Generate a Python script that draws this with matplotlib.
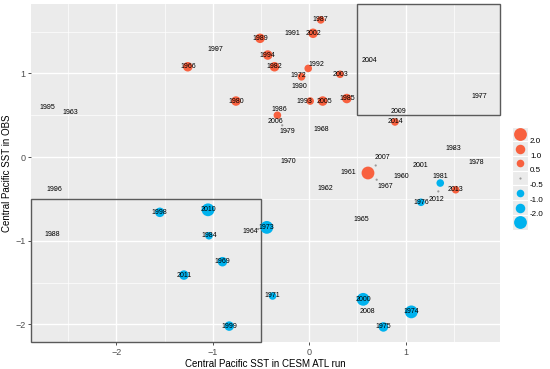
import matplotlib
matplotlib.use("Agg")
import matplotlib.pyplot as plt
from matplotlib.patches import Rectangle
import numpy as np

plt.rcParams['font.family'] = ['Liberation Sans', 'DejaVu Sans']

# year, x (CESM ATL run), y (OBS), index value (size / colour)
years = [1987, 2002, 1989, 1994, 1966, 1982, 1992, 2003, 1972, 1980, 1993, 2005,
         1985, 1986, 2014, 1961, 2013,
         1998, 2010, 1984, 1973, 2011, 1969, 1971, 1999, 2000, 1974, 1975, 1981, 1976,
         1991, 1997, 1990, 2006, 1979, 1968, 1995, 1963, 2004, 1977, 2009, 1983,
         1978, 1970, 2007, 1967, 1960, 2001, 2012, 1962, 1965, 1996, 1988, 1964, 2008]
x_cesm = [0.12, 0.04, -0.51, -0.43, -1.26, -0.36, -0.01, 0.32, -0.08, -0.76, 0.01, 0.14,
          0.39, -0.33, 0.89, 0.61, 1.52,
          -1.55, -1.05, -1.04, -0.44, -1.30, -0.90, -0.38, -0.83, 0.56, 1.06, 0.77, 1.36, 1.16,
          -0.18, -0.97, -0.10, -0.28, -0.23, 0.13, -2.72, -2.48, 0.62, 1.77, 0.93, 1.50,
          1.73, -0.22, 0.69, 0.70, 0.96, 1.15, 1.34, 0.17, 0.54, -2.64, -2.67, -0.53, 0.60]
y_obs = [1.64, 1.48, 1.42, 1.22, 1.08, 1.08, 1.06, 0.99, 0.96, 0.67, 0.67, 0.67,
         0.70, 0.50, 0.42, -0.19, -0.39,
         -0.66, -0.63, -0.94, -0.84, -1.41, -1.25, -1.66, -2.02, -1.70, -1.85, -2.03, -0.31, -0.54,
         1.48, 1.29, 0.84, 0.38, 0.31, 0.33, 0.59, 0.53, 1.15, 0.73, 0.55, 0.10,
         -0.07, -0.05, -0.10, -0.27, -0.23, -0.10, -0.41, -0.38, -0.75, -0.39, -0.93, -0.86, -1.84]
index = [0.9, 1.6, 1.2, 1.3, 1.5, 1.7, 0.8, 0.9, 0.6, 1.3, 0.7, 1.4,
         1.8, 0.8, 0.7, 2.2, 0.9,
         -1.2, -2.2, -0.8, -2.3, -1.4, -1.1, -0.7, -1.2, -2.1, -2.4, -1.1, -0.8, -0.9,
         0.2, 0.1, 0.3, 0.1, -0.1, 0.2, 0.0, 0.1, 0.2, -0.2, 0.1, -0.1,
         0.0, 0.1, 0.2, -0.1, 0.1, 0.0, -0.2, 0.1, -0.3, 0.1, -0.2, 0.0, -0.1]

# label nudges (points) where the text sits off its marker
nudge = {1992: (6, 3), 1972: (-2, 1), 1986: (1, 4), 2006: (-5, 3), 1961: (-14, 0),
         1981: (0, 5), 2012: (-1, -6), 1964: (-6, -2), 2007: (5, 6), 1967: (6, -5),
         1993: (-4, 0), 2005: (1, 0)}

bins = [-np.inf, -2, -1, -0.5, 0.5, 1, 2, np.inf]
bin_size = [85, 47, 30, 2.5, 30, 47, 85]
legend_labels = ['2.0', '1.0', '0.5', '-0.5', '-1.0', '-2.0']
red, blue, grey = '#F8613F', '#00B2EE', '#9A9A9A'


def style(v):
    k = np.digitize(v, bins) - 1
    c = red if v >= 0.5 else (blue if v <= -0.5 else grey)
    return bin_size[k], c


fig = plt.figure(figsize=(5.5, 3.69), dpi=100)
ax = fig.add_axes([31 / 550, 1 - 342 / 369, 469 / 550, 338 / 369])
ax.set_facecolor('#EBEBEB')
xlim = (-2.887, 1.98)
ylim = (-2.21, 1.83)
ax.set_xlim(xlim)
ax.set_ylim(ylim)

ax.set_xticks([-2, -1, 0, 1])
ax.set_yticks([-2, -1, 0, 1])
ax.set_xticks([-2.5, -1.5, -0.5, 0.5, 1.5], minor=True)
ax.set_yticks([-1.5, -0.5, 0.5, 1.5], minor=True)
ax.grid(True, which='major', color='white', lw=1.0)
ax.grid(True, which='minor', color='white', lw=0.5)
ax.set_axisbelow(True)
for s in ax.spines.values():
    s.set_visible(False)
ax.tick_params(which='major', length=2.5, width=0.6, color='#333333',
               labelsize=6.5, labelcolor='#4D4D4D', pad=1.5)
ax.tick_params(which='minor', length=0)

# boxes for the two quadrants
ax.add_patch(Rectangle((0.5, 0.5), xlim[1] - 0.5, ylim[1] - 0.5, fill=False,
                       ec='#5A5A5A', lw=1.0, clip_on=False, zorder=1))
ax.add_patch(Rectangle((xlim[0], ylim[0]), -0.5 - xlim[0], -0.5 - ylim[0], fill=False,
                       ec='#5A5A5A', lw=1.0, clip_on=False, zorder=1))

sizes, colors = zip(*[style(v) for v in index])
ax.scatter(x_cesm, y_obs, s=sizes, c=colors, lw=0, zorder=2)
for yr, x, y in zip(years, x_cesm, y_obs):
    dx, dy = nudge.get(yr, (0, 0))
    ax.annotate(str(yr), (x, y), xytext=(dx, dy), textcoords='offset points',
                ha='center', va='center', fontsize=5, color='black', zorder=3)

ax.set_xlabel('Central Pacific SST in CESM ATL run', fontsize=7, labelpad=2)
ax.set_ylabel('Central Pacific SST in OBS', fontsize=7, labelpad=2)

# binned size legend
lg = fig.add_axes([508 / 550, 1 - 232 / 369, 40 / 550, 106 / 369])
lg.set_xlim(508, 548)
lg.set_ylim(232, 126)
lg.axis('off')
key_vals = [2.5, 1.5, 0.75, 0.0, -0.75, -1.5, -2.5]
step = 14.7
for i, v in enumerate(key_vals):
    s, c = style(v)
    cy = 134 + i * step
    lg.add_patch(Rectangle((512, cy - step / 2), 16, step, fc='#EBEBEB', ec='white', lw=0.8))
    lg.scatter([520], [cy], s=s, c=c, lw=0, zorder=3)
for i, lab in enumerate(legend_labels):
    lg.text(530, 134 + (i + 0.5) * step, lab, fontsize=5.8, va='center', ha='left')

fig.savefig('out.png', dpi=100)
